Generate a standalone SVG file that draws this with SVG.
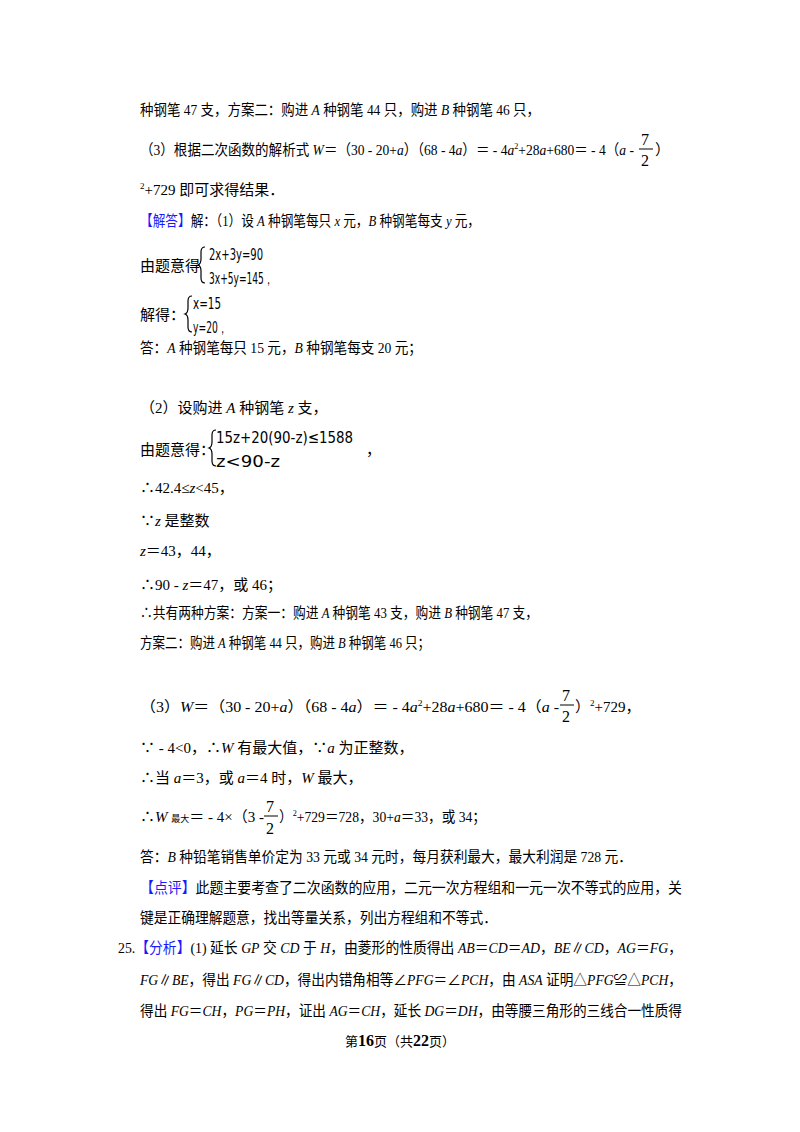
<svg xmlns="http://www.w3.org/2000/svg" width="800" height="1132" viewBox="0 0 800 1132">
<style>
text{font-family:"Liberation Serif","Noto Sans CJK SC",serif;font-size:15px;fill:#000}
.i{font-style:italic}
.b{fill:#1a1aff}
.e{font-family:"DejaVu Sans","Liberation Sans",sans-serif;font-size:16px}
.s{font-size:9px}
.br{fill:none;stroke:#000;stroke-width:1.2}
.fl{stroke:#000;stroke-width:1}
.f{font-size:16px}
</style>
<rect width="800" height="1132" fill="#fff"/>
<text x="140" y="115" textLength="400" lengthAdjust="spacingAndGlyphs">种钢笔 47 支，方案二：购进 <tspan class="i">A</tspan> 种钢笔 44 只，购进 <tspan class="i">B</tspan> 种钢笔 46 只，</text>
<text x="140" y="155" textLength="494" lengthAdjust="spacingAndGlyphs">（3）根据二次函数的解析式 <tspan class="i">W</tspan>＝（30 - 20+<tspan class="i">a</tspan>）（68 - 4<tspan class="i">a</tspan>）＝ - 4<tspan class="i">a</tspan><tspan class="s" dy="-6">2</tspan><tspan dy="6">+28</tspan><tspan class="i">a</tspan>+680＝ - 4（<tspan class="i">a</tspan> -</text>
<text x="641" y="145" class="f">7</text><line class="fl" x1="639" y1="149" x2="653" y2="149"/><text x="641" y="166" class="f">2</text>
<text x="655" y="155">）</text>
<text x="140" y="195"><tspan class="s" dy="-6">2</tspan><tspan dy="6">+729 即可求得结果．</tspan></text>
<text x="140" y="226" textLength="340" lengthAdjust="spacingAndGlyphs"><tspan class="b">【解答】</tspan>解：（1）设 <tspan class="i">A</tspan> 种钢笔每只 <tspan class="i">x</tspan> 元，<tspan class="i">B</tspan> 种钢笔每支 <tspan class="i">y</tspan> 元，</text>
<text x="140" y="271">由题意得</text>
<path class="br" d="M205,247 q-4,0 -4,5 v7 q0,5 -3,6 q3,1 3,6 v7 q0,5 4,5"/>
<text class="e" x="209" y="260" textLength="54" lengthAdjust="spacingAndGlyphs">2x+3y=90</text>
<text class="e" x="209" y="284" textLength="64" lengthAdjust="spacingAndGlyphs">3x+5y=145，</text>
<text x="140" y="320">解得：</text>
<path class="br" d="M192,296 q-4,0 -4,5 v7 q0,5 -3,6 q3,1 3,6 v7 q0,5 4,5"/>
<text class="e" x="193" y="309" textLength="28" lengthAdjust="spacingAndGlyphs">x=15</text>
<text class="e" x="193" y="333" textLength="34" lengthAdjust="spacingAndGlyphs">y=20，</text>
<text x="140" y="353" textLength="282" lengthAdjust="spacingAndGlyphs">答：<tspan class="i">A</tspan> 种钢笔每只 15 元，<tspan class="i">B</tspan> 种钢笔每支 20 元；</text>
<text x="140" y="413">（2）设购进 <tspan class="i">A</tspan> 种钢笔 <tspan class="i">z</tspan> 支，</text>
<text x="140" y="455">由题意得：</text>
<path class="br" d="M216,430 q-4,0 -4,5 v7 q0,5 -3,6 q3,1 3,6 v7 q0,5 4,5"/>
<text class="e" x="216" y="443" textLength="137" lengthAdjust="spacingAndGlyphs">15z+20(90-z)≤1588</text>
<text class="e" x="216" y="467" textLength="64" lengthAdjust="spacingAndGlyphs">z&lt;90-z</text>
<text x="366" y="455">，</text>
<text x="140" y="493">∴42.4≤<tspan class="i">z</tspan>&lt;45，</text>
<text x="140" y="526">∵<tspan class="i">z</tspan> 是整数</text>
<text x="140" y="556"><tspan class="i">z</tspan>＝43，44，</text>
<text x="140" y="590">∴90 - <tspan class="i">z</tspan>＝47，或 46；</text>
<text x="140" y="618" textLength="398" lengthAdjust="spacingAndGlyphs">∴共有两种方案：方案一：购进 <tspan class="i">A</tspan> 种钢笔 43 支，购进 <tspan class="i">B</tspan> 种钢笔 47 支，</text>
<text x="140" y="648" textLength="290" lengthAdjust="spacingAndGlyphs">方案二：购进 <tspan class="i">A</tspan> 种钢笔 44 只，购进 <tspan class="i">B</tspan> 种钢笔 46 只；</text>
<text x="140" y="712" textLength="419" lengthAdjust="spacingAndGlyphs">（3）<tspan class="i">W</tspan>＝（30 - 20+<tspan class="i">a</tspan>）（68 - 4<tspan class="i">a</tspan>）＝ - 4<tspan class="i">a</tspan><tspan class="s" dy="-6">2</tspan><tspan dy="6">+28</tspan><tspan class="i">a</tspan>+680＝ - 4（<tspan class="i">a</tspan> -</text>
<text x="562" y="701" class="f">7</text><line class="fl" x1="560" y1="705" x2="574" y2="705"/><text x="562" y="722" class="f">2</text>
<text x="575" y="712">）<tspan class="s" dy="-6">2</tspan><tspan dy="6">+729，</tspan></text>
<text x="140" y="753">∵ - 4&lt;0，∴<tspan class="i">W</tspan> 有最大值，∵<tspan class="i">a</tspan> 为正整数，</text>
<text x="140" y="783">∴当 <tspan class="i">a</tspan>＝3，或 <tspan class="i">a</tspan>＝4 时，<tspan class="i">W</tspan> 最大，</text>
<text x="140" y="822">∴<tspan class="i">W</tspan> <tspan class="s">最大</tspan>＝ - 4×（3 -</text>
<text x="266" y="812" class="f">7</text><line class="fl" x1="264" y1="816" x2="278" y2="816"/><text x="266" y="834" class="f">2</text>
<text x="279" y="822" textLength="207" lengthAdjust="spacingAndGlyphs">）<tspan class="s" dy="-6">2</tspan><tspan dy="6">+729＝728，30+</tspan><tspan class="i">a</tspan>＝33，或 34；</text>
<text x="140" y="862" textLength="492" lengthAdjust="spacingAndGlyphs">答：<tspan class="i">B</tspan> 种铅笔销售单价定为 33 元或 34 元时，每月获利最大，最大利润是 728 元．</text>
<text x="140" y="893" textLength="542" lengthAdjust="spacingAndGlyphs"><tspan class="b">【点评】</tspan>此题主要考查了二次函数的应用，二元一次方程组和一元一次不等式的应用，关</text>
<text x="140" y="923" textLength="357" lengthAdjust="spacingAndGlyphs">键是正确理解题意，找出等量关系，列出方程组和不等式．</text>
<text x="118" y="953" textLength="564" lengthAdjust="spacingAndGlyphs">25.<tspan class="b">【分析】</tspan>(1) 延长 <tspan class="i">GP</tspan> 交 <tspan class="i">CD</tspan> 于 <tspan class="i">H</tspan>，由菱形的性质得出 <tspan class="i">AB</tspan>＝<tspan class="i">CD</tspan>＝<tspan class="i">AD</tspan>，<tspan class="i">BE</tspan>∥<tspan class="i">CD</tspan>，<tspan class="i">AG</tspan>＝<tspan class="i">FG</tspan>，</text>
<text x="140" y="985" textLength="542" lengthAdjust="spacingAndGlyphs"><tspan class="i">FG</tspan>∥<tspan class="i">BE</tspan>，得出 <tspan class="i">FG</tspan>∥<tspan class="i">CD</tspan>，得出内错角相等∠<tspan class="i">PFG</tspan>＝∠<tspan class="i">PCH</tspan>，由 <tspan class="i">ASA</tspan> 证明△<tspan class="i">PFG</tspan>≌△<tspan class="i">PCH</tspan>，</text>
<text x="140" y="1016" textLength="542" lengthAdjust="spacingAndGlyphs">得出 <tspan class="i">FG</tspan>＝<tspan class="i">CH</tspan>，<tspan class="i">PG</tspan>＝<tspan class="i">PH</tspan>，证出 <tspan class="i">AG</tspan>＝<tspan class="i">CH</tspan>，延长 <tspan class="i">DG</tspan>＝<tspan class="i">DH</tspan>，由等腰三角形的三线合一性质得</text>
<text x="400" y="1046" text-anchor="middle" style="font-size:13px">第<tspan font-weight="bold" style="font-size:16px">16</tspan>页（共<tspan font-weight="bold" style="font-size:16px">22</tspan>页）</text>
</svg>
